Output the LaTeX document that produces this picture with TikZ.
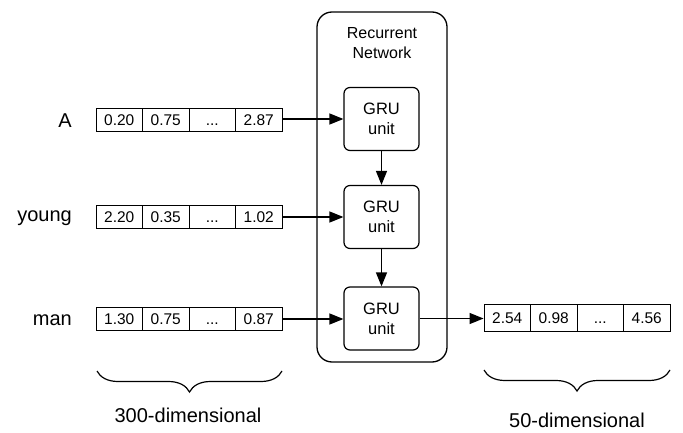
\documentclass[tikz,border=0pt]{standalone}
\usepackage{fontspec}
\setmainfont{Liberation Sans}
\usetikzlibrary{arrows.meta,decorations.pathreplacing,positioning}
\begin{document}
\begin{tikzpicture}[x=1pt,y=-1pt,
  cell/.style={draw,line width=0.9pt,minimum width=46.5pt,minimum height=23pt,inner sep=0pt,text height=11.5pt,text depth=0.5pt,font=\fontsize{15.5}{18}\selectfont},
  ocell/.style={cell,minimum height=27pt},
  gru/.style={draw,line width=1.2pt,rounded corners=6pt,minimum width=75pt,minimum height=63pt,inner sep=0pt,align=center,font=\fontsize{16.5}{20}\selectfont},
  rnn/.style={draw,line width=1.3pt,rounded corners=15pt,minimum width=130pt,minimum height=350pt,inner sep=0pt},
  lbl/.style={anchor=east,inner sep=0pt,font=\fontsize{20}{24}\selectfont},
  dimlbl/.style={inner sep=0pt,font=\fontsize{20}{24}\selectfont},
  arr/.style={line width=1.3pt,-{Triangle[length=14pt,width=11pt]}},
  brc/.style={line width=1.2pt,decorate,decoration={brace,mirror,amplitude=21pt}}
]
\useasboundingbox (0,0) rectangle (683,433);

% recurrent network container
\node[rnn] (rnn) at (382,187) {};
\node[align=center,inner sep=0pt,font=\fontsize{16}{20}\selectfont] (rnnlbl) at (382,43) {Recurrent\\Network};

% GRU units
\node[gru] (g1) at (381.5,119) {GRU\\unit};
\node[gru] (g2) at (381.5,217) {GRU\\unit};
\node[gru] (g3) at (381.5,318.5) {GRU\\unit};

% word labels
\node[lbl] (lA) at (72,121) {A};
\node[lbl] (lY) at (72,218) {young};
\node[lbl] (lM) at (72,320) {man};

% input vectors
\foreach \r/\yy/\a/\b/\c in {1/120/0.20/0.75/2.87, 2/217/2.20/0.35/1.02, 3/319/1.30/0.75/0.87}{
  \node[cell] (v\r c1) at (119.25,\yy) {\a};
  \node[cell] (v\r c2) at (165.75,\yy) {\b};
  \node[cell] (v\r c3) at (212.25,\yy) {...};
  \node[cell] (v\r c4) at (258.75,\yy) {\c};
}

% output vector
\node[ocell] (o1) at (507.25,318) {2.54};
\node[ocell] (o2) at (553.75,318) {0.98};
\node[ocell] (o3) at (600.25,318) {...};
\node[ocell] (o4) at (646.75,318) {4.56};

% arrows
\draw[arr] (v1c4.east |- g1.west) -- (g1.west);
\draw[arr] (v2c4.east) -- (v2c4.east -| g2.west);
\draw[arr] (v3c4.east) -- (v3c4.east -| g3.west);
\draw[arr] (g1.south) -- (g2.north);
\draw[arr] (g2.south) -- (g3.north);
\draw[arr] (g3.east) -- (g3.east -| o1.west);

% braces
\coordinate (b1s) at (97,371);
\coordinate (b1e) at (282,371);
\coordinate (b2s) at (484,370);
\coordinate (b2e) at (670,370);
\draw[brc] (b1s) -- (b1e);
\draw[brc] (b2s) -- (b2e);
\node[dimlbl] (d1) at (188,415) {300-dimensional};
\node[dimlbl] (d2) at (577,420) {50-dimensional};
\end{tikzpicture}
\end{document}
